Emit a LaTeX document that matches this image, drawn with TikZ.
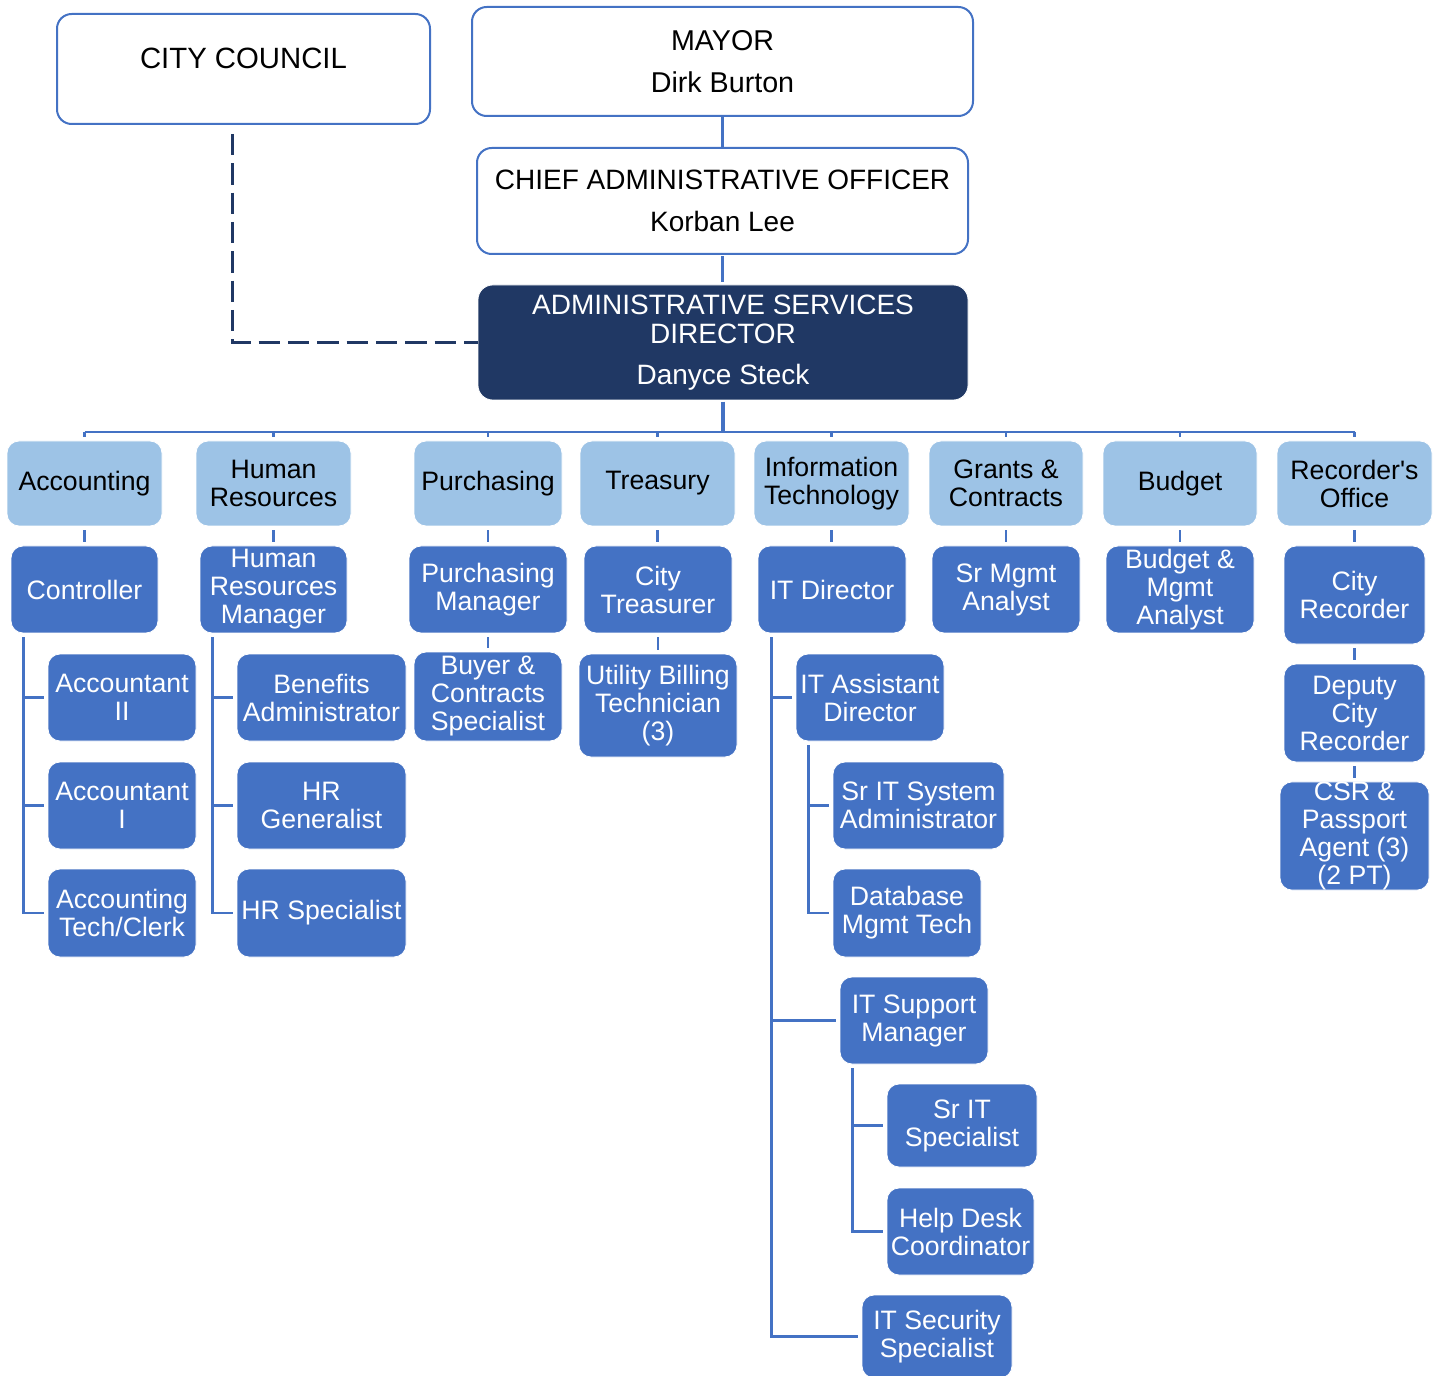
\documentclass[tikz,border=0pt]{standalone}
\usepackage{fontspec}
\setmainfont{Liberation Sans}
\usetikzlibrary{calc}
\definecolor{cblue}{HTML}{4472C4}
\definecolor{lblue}{HTML}{9DC3E6}
\definecolor{navy}{HTML}{203864}
\newcommand\bx[7]{%
  \pgfmathsetmacro\bxcx{(#2+#4)/2}%
  \pgfmathsetmacro\bxcy{(#3+#5)/2}%
  \pgfmathsetmacro\bxw{(#4-#2)*0.75}%
  \pgfmathsetmacro\bxh{(#5-#3)*0.75}%
  \node[#6, minimum width=\bxw pt, minimum height=\bxh pt] (#1) at (\bxcx,\bxcy) {#7};}
\begin{document}
\begin{tikzpicture}[x=0.75pt,y=-0.75pt,
  topbox/.style={draw=cblue, line width=1.5pt, fill=white, rounded corners=11pt, align=center, inner sep=0pt, font=\fontsize{21}{22}\selectfont},
  asdbox/.style={fill=navy, draw=white, line width=0.6pt, text=white, rounded corners=11pt, align=center, inner sep=0pt, font=\fontsize{21}{22}\selectfont},
  dept/.style={fill=lblue, draw=white, line width=0.6pt, rounded corners=9pt, align=center, inner sep=0pt, font=\fontsize{20}{21}\selectfont},
  posbox/.style={fill=cblue, draw=white, line width=0.6pt, text=white, rounded corners=9pt, align=center, inner sep=0pt, font=\fontsize{20}{21}\selectfont},
  conn/.style={draw=cblue, line width=2pt},
  tickline/.style={conn, shorten <=3pt, shorten >=3pt},
  elbow/.style={conn, shorten <=3pt, shorten >=2.5pt},
  dashline/.style={draw=navy, line width=2pt, dash pattern=on 16pt off 6pt}]
\useasboundingbox (0,0) rectangle (1440,1376);

% top
\bx{council}{57}{14}{430}{124}{topbox, font=\fontsize{22}{23}\selectfont}{CITY COUNCIL\\[-7pt]\mbox{}}
\bx{mayor}{472}{7}{973}{116}{topbox, font=\fontsize{21.5}{22.5}\selectfont}{MAYOR\\[8.5pt]Dirk Burton}
\bx{cao}{477}{148}{968}{254}{topbox}{CHIEF ADMINISTRATIVE OFFICER\\[9pt]Korban Lee}
\bx{asd}{478}{285}{968}{400}{asdbox}{ADMINISTRATIVE SERVICES\\DIRECTOR\\[9pt]Danyce Steck}

% departments
\bx{acct}{7}{441}{162}{526}{dept}{Accounting}
\bx{hr}{196}{441}{351}{526}{dept}{Human\\Resources}
\bx{pur}{414}{441}{562}{526}{dept}{Purchasing}
\bx{tre}{580}{441}{735}{526}{dept}{Treasury}
\bx{it}{754}{441}{909}{526}{dept}{Information\\Technology}
\bx{gc}{929}{441}{1083}{526}{dept}{Grants \&\\Contracts}
\bx{bud}{1103}{441}{1257}{526}{dept}{Budget}
\bx{rec}{1277}{441}{1432}{526}{dept}{Recorder\textquotesingle s\\Office}

% level 2
\bx{ctrl}{11}{546}{158}{633}{posbox}{Controller}
\bx{hrm}{200}{546}{347}{633}{posbox}{Human\\Resources\\Manager}
\bx{purm}{409}{546}{567}{633}{posbox}{Purchasing\\Manager}
\bx{ctre}{584}{546}{732}{633}{posbox}{City\\Treasurer}
\bx{itd}{758}{546}{906}{633}{posbox}{IT Director}
\bx{smga}{932}{546}{1080}{633}{posbox}{Sr Mgmt\\Analyst}
\bx{bma}{1106}{546}{1254}{633}{posbox}{Budget \&\\Mgmt\\Analyst}
\bx{crec}{1284}{546}{1425}{644}{posbox}{City\\Recorder}

% level 3
\bx{acc2}{48}{654}{196}{741}{posbox}{Accountant\\II}
\bx{acc1}{48}{762}{196}{849}{posbox}{Accountant\\I}
\bx{clerk}{48}{869}{196}{957}{posbox}{Accounting\\Tech/Clerk}
\bx{ben}{237}{654}{406}{741}{posbox}{Benefits\\Administrator}
\bx{hrg}{237}{762}{406}{849}{posbox}{HR\\Generalist}
\bx{hrs}{237}{869}{406}{957}{posbox}{HR Specialist}
\bx{buyer}{414}{652}{562}{741}{posbox}{Buyer \&\\Contracts\\Specialist}
\bx{ubt}{579}{654}{737}{757}{posbox}{Utility Billing\\Technician\\(3)}
\bx{itad}{796}{654}{944}{741}{posbox}{IT Assistant\\Director}
\bx{srsys}{833}{762}{1004}{849}{posbox}{Sr IT System\\Administrator}
\bx{dbm}{833}{869}{981}{957}{posbox}{Database\\Mgmt Tech}
\bx{itsm}{840}{977}{988}{1064}{posbox}{IT Support\\Manager}
\bx{srits}{887}{1084}{1037}{1167}{posbox}{Sr IT\\Specialist}
\bx{hdc}{887}{1188}{1034}{1275}{posbox}{Help Desk\\Coordinator}
\bx{itsec}{862}{1295}{1012}{1378}{posbox}{IT Security\\Specialist}
\bx{dcr}{1284}{664}{1425}{762}{posbox}{Deputy\\City\\Recorder}
\bx{csr}{1280}{782}{1429}{890}{posbox}{CSR \&\\Passport\\Agent (3)\\(2 PT)}

% top connectors
\draw[conn] (mayor.south) -- (mayor.south |- cao.north);
\draw[conn, shorten <=1pt, shorten >=2pt] (cao.south) -- (cao.south |- asd.north);
\draw[dashline] ($(council.south)+(-11,9)$) |- (asd.west);

% bus
\coordinate (bus) at (722,432);
\draw[conn, line width=2.5pt, shorten <=1pt] (asd.south) -- (asd.south |- bus);
\draw[conn] (acct.north |- bus) -- (rec.north |- bus);
\foreach \d in {acct,hr,pur,tre,it,gc,bud,rec}
  \draw[conn, shorten >=3pt] (\d.north |- bus) -- (\d.north);

% department to head
\draw[tickline] (acct.south) -- (acct.south |- ctrl.north);
\draw[tickline] (hr.south) -- (hr.south |- hrm.north);
\draw[tickline] (pur.south) -- (pur.south |- purm.north);
\draw[tickline] (tre.south) -- (tre.south |- ctre.north);
\draw[tickline] (it.south) -- (it.south |- itd.north);
\draw[tickline] (gc.south) -- (gc.south |- smga.north);
\draw[tickline] (bud.south) -- (bud.south |- bma.north);
\draw[tickline] (rec.south) -- (rec.south |- crec.north);
\draw[tickline] (purm.south) -- (purm.south |- buyer.north);
\draw[tickline] (ctre.south) -- (ctre.south |- ubt.north);
\draw[tickline] (crec.south) -- (crec.south |- dcr.north);
\draw[tickline] (dcr.south) -- (dcr.south |- csr.north);

% elbows
\foreach \c in {acc2,acc1,clerk}
  \draw[elbow] ($(ctrl.south west)+(13,0)$) |- (\c.west);
\foreach \c in {ben,hrg,hrs}
  \draw[elbow] ($(hrm.south west)+(13,0)$) |- (\c.west);
\foreach \c in {itad,itsm,itsec}
  \draw[elbow] ($(itd.south west)+(14,0)$) |- (\c.west);
\foreach \c in {srsys,dbm}
  \draw[elbow] ($(itad.south west)+(13,0)$) |- (\c.west);
\foreach \c in {srits,hdc}
  \draw[elbow] ($(itsm.south west)+(13,0)$) |- (\c.west);
\end{tikzpicture}
\end{document}
